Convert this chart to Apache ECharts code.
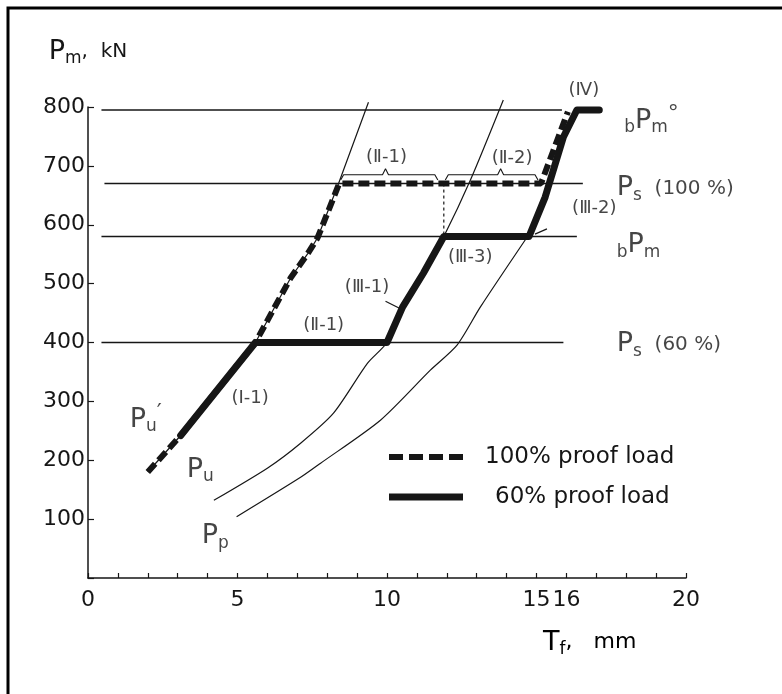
<!DOCTYPE html>
<html><head><meta charset="utf-8">
<script src="https://cdn.jsdelivr.net/npm/echarts@6/dist/echarts.min.js"></script>
<style>html,body{margin:0;padding:0;background:#fff}#c{width:782px;height:694px}</style>
</head><body><div id="c"></div>
<script>
// ---------- data ----------
const xLabelValues = [0, 5, 10, 15, 16, 20];          // labelled x ticks (mm)
const yLabelValues = [100, 200, 300, 400, 500, 600, 700, 800]; // labelled y ticks (kN)

// horizontal load levels: bPm°, Ps(100%), bPm, Ps(60%)
const levelLoads = [795, 670, 580, 400];
const levelFromX = [0.45, 0.55, 0.45, 0.45];
const levelToX   = [15.85, 16.55, 16.35, 15.9];

// thin curves
const curvePuPrime = [[2.0,180],[3.1,242],[5.6,400],[6.78,510],[7.35,551],[7.68,578],[8.38,670],[9.38,808]];
const curvePu = [[4.21,132],[6.01,187],[7.11,229],[8.21,280],[9.35,365],[10.0,400],[10.52,460],[11.22,518],[11.9,580],[12.79,676],[13.89,812]];
const curvePp = [[4.97,104],[7.11,171],[7.78,195],[9.78,268],[11.45,353],[12.35,396],[13.12,460],[14.7,580]];

// load paths
const path100 = [[2.0,180],[3.1,242],[5.6,400],[6.78,510],[7.35,551],[7.68,578],[8.4,670],[15.15,670],[16.05,792]];
const path60  = [[3.1,242],[5.6,400],[10.0,400],[10.52,460],[11.22,518],[11.9,580],[14.75,580],[15.29,647],[15.9,749],[16.35,795],[17.1,795]];

// decorations
const dropLine = [[11.9,670],[11.9,580]];
const brace1 = [[8.45,676],[8.55,685],[9.85,685],[9.95,695],[10.05,685],[11.6,685],[11.7,676]];
const brace2 = [[11.95,676],[12.05,685],[13.7,685],[13.8,695],[13.9,685],[14.95,685],[15.05,676]];
const arrowIII1 = [[9.95,470],[10.5,456]];
const arrowIII2 = [[15.35,593],[14.95,584]];

// annotations
const noteText = ['(Ⅱ-1)', '(Ⅱ-2)', '(Ⅳ)', '(Ⅲ-2)', '(Ⅲ-3)', '(Ⅲ-1)', '(Ⅱ-1)', '(Ⅰ-1)'];
const noteX = [10.0, 14.2, 16.6, 16.95, 12.8, 9.35, 7.9, 5.44];
const noteY = [714, 712, 827, 627, 544, 493, 429, 305];

const curveLabelText = ['{P|P}{s|u}{sup|′}', '{P|P}{s|u}', '{P|P}{s|p}'];
const curveLabelX = [1.95, 3.77, 4.27];
const curveLabelY = [268, 183, 70];

const levelLabelText = ['{s|b}{P|P}{s|m}{sup|°}', '{P|P}{s|s}{t|  (100 %)}', '{s|b}{P|P}{s|m}', '{P|P}{s|s}{t|  (60 %)}'];
const levelLabelX = [17.95, 17.7, 17.7, 17.7];
const levelLabelY = [776, 661, 564, 396];

const seriesNames = ['100% proof load', '60% proof load'];

// ---------- chart ----------
const FONT = 'DejaVu Sans';
const INK = '#161616';
const chart = echarts.init(document.getElementById('c'), null, {renderer: 'canvas'});

const thin = (name, data, extra) => Object.assign({
  type: 'line', name, data, symbol: 'none', clip: false, silent: true,
  lineStyle: {color: INK, width: 1.2}, z: 2, animation: false
}, extra || {});

const levelSeries = levelLoads.map((v, i) => thin('level' + i, [[levelFromX[i], v], [levelToX[i], v]], {lineStyle: {color: INK, width: 1.4}}));

const rich = {
  P: {fontSize: 27, lineHeight: 30, fontFamily: FONT, color: INK},
  s: {fontSize: 17, lineHeight: 17, padding: [14, 0, 0, 0], fontFamily: FONT, color: INK},
  sup: {fontSize: 22, lineHeight: 22, padding: [0, 0, 12, 0], fontFamily: FONT, color: INK},
  t: {fontSize: 20, lineHeight: 30, fontFamily: FONT, color: INK},
  m: {fontSize: 22, lineHeight: 30, fontFamily: FONT, color: INK},
  n: {fontSize: 18, fontFamily: FONT, color: INK}
};

const noteData = noteText.map((t, i) => ({value: [noteX[i], noteY[i]], label: {formatter: '{n|' + t + '}', align: 'center'}}));
const curveLabelData = curveLabelText.map((t, i) => ({value: [curveLabelX[i], curveLabelY[i]], label: {formatter: t, align: 'center'}}));
const levelLabelData = levelLabelText.map((t, i) => ({value: [levelLabelX[i], levelLabelY[i]], label: {formatter: t, align: 'left'}}));

const arrowLine = (pts) => ({
  type: 'line', data: [], silent: true, animation: false,
  markLine: {
    silent: true, animation: false, symbol: ['none', 'arrow'], symbolSize: [0, 7],
    label: {show: false}, lineStyle: {color: INK, width: 1.2, type: 'solid'},
    data: [[{coord: pts[0]}, {coord: pts[1]}]]
  }
});

chart.setOption({
  animation: false,
  backgroundColor: '#fff',
  grid: {left: 88, right: 96, top: 107, bottom: 116},
  xAxis: {
    type: 'value', min: 0, max: 20, interval: 1,
    axisLine: {lineStyle: {color: INK, width: 1.5}},
    axisTick: {inside: true, length: 5, lineStyle: {color: INK, width: 1.2}},
    splitLine: {show: false},
    axisLabel: {
      margin: 11, fontFamily: FONT, fontSize: 22, color: INK,
      formatter: v => xLabelValues.includes(v) ? String(v) : ''
    }
  },
  yAxis: {
    type: 'value', min: 0, max: 800, interval: 100,
    name: '{P|P}{s|m}{t|,  kN}', nameLocation: 'end', nameGap: 55,
    nameTextStyle: {align: 'center', verticalAlign: 'middle', rich},
    axisLine: {lineStyle: {color: INK, width: 1.5}},
    axisTick: {inside: true, length: 6, lineStyle: {color: INK, width: 1.2}},
    splitLine: {show: false},
    axisLabel: {
      margin: 3, fontFamily: FONT, fontSize: 22, color: INK,
      formatter: v => yLabelValues.includes(v) ? String(v) : ''
    }
  },
  legend: {
    orient: 'vertical', left: 389, top: 445, itemWidth: 74, itemHeight: 7, itemGap: 16,
    padding: 0, selectedMode: false,
    textStyle: {fontFamily: FONT, fontSize: 23, lineHeight: 24, color: INK, padding: [0, 0, 0, 17]},
    data: [
      {name: seriesNames[0], icon: 'path://M0,0h14v6h-14zM20,0h14v6h-14zM40,0h14v6h-14zM60,0h14v6h-14z'},
      {name: seriesNames[1], icon: 'path://M0,0h74v7h-74z', textStyle: {padding: [0, 0, 0, 27]}}
    ]
  },
  graphic: [
    {type: 'polyline', shape: {points: [[8, 694], [8, 8], [782, 8]]}, style: {stroke: '#000', lineWidth: 3, fill: null}},
    {type: 'text', left: 543, top: 627, style: {text: '{P|T}{s|f}{m|,   mm}', rich}}
  ],
  series: [
    ...levelSeries,
    thin('Pu′', curvePuPrime),
    thin('Pu', curvePu, {smooth: 0.25}),
    thin('Pp', curvePp, {smooth: 0.25}),
    thin('drop', dropLine, {lineStyle: {color: INK, width: 1.2, type: [3, 3]}}),
    thin('brace1', brace1, {lineStyle: {color: INK, width: 1.1}}),
    thin('brace2', brace2, {lineStyle: {color: INK, width: 1.1}}),
    arrowLine(arrowIII1),
    arrowLine(arrowIII2),
    {
      type: 'line', name: seriesNames[0], data: path100, symbol: 'none', clip: false, z: 4,
      lineStyle: {color: INK, width: 6, type: [11, 5], cap: 'butt'}, itemStyle: {color: INK}
    },
    {
      type: 'line', name: seriesNames[1], data: path60, symbol: 'none', clip: false, z: 5,
      lineStyle: {color: INK, width: 7, join: 'round', cap: 'round'}, itemStyle: {color: INK}
    },
    {
      type: 'scatter', name: 'notes', symbolSize: 1, clip: false, silent: true, z: 10,
      itemStyle: {color: 'transparent'},
      label: {show: true, position: [0, 0], verticalAlign: 'middle', rich},
      data: [...noteData, ...curveLabelData, ...levelLabelData]
    }
  ]
});
</script></body></html>
